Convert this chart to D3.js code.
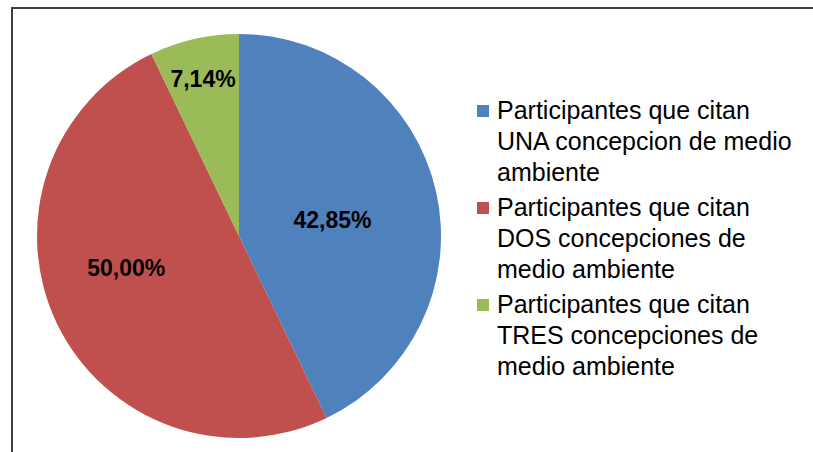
<!DOCTYPE html>
<html lang="es">
<head>
<meta charset="UTF-8">
<title>Concepciones de medio ambiente</title>
<script src="https://cdn.jsdelivr.net/npm/d3@7"></script>
<style>
  body { margin: 0; background: #fff; }
  #chart text { font-family: "Liberation Sans", Arial, sans-serif; fill: #000; }
  .label { font-size: 23px; font-weight: bold; }
  .legend text { font-size: 25px; }
</style>
</head>
<body>
<div id="chart"></div>
<script>
  // data
  var categories = ["UNA", "DOS", "TRES"];
  var values = [42.85, 50.00, 7.14];
  var labels = ["42,85%", "50,00%", "7,14%"];
  var legendLines = [
    ["Participantes que citan", "UNA concepcion de medio", "ambiente"],
    ["Participantes que citan", "DOS concepciones de", "medio ambiente"],
    ["Participantes que citan", "TRES concepciones de", "medio ambiente"]
  ];
  var colors = ["#4F81BD", "#C0504D", "#9BBB59"];

  var width = 813, height = 452;
  var cx = 239, cy = 236, R = 202;

  var svg = d3.select("#chart").append("svg")
    .attr("width", width).attr("height", height);

  // outer frame (right and bottom edges fall outside the picture)
  svg.append("rect")
    .attr("x", 12).attr("y", 8)
    .attr("width", 820).attr("height", 460)
    .attr("fill", "none")
    .attr("stroke", "#404040")
    .attr("stroke-width", 2);

  var color = d3.scaleOrdinal().domain(categories).range(colors);

  var pie = d3.pie().sort(null).value(function(d) { return d.v; });
  var arcs = pie(categories.map(function(c, i) { return { c: c, v: values[i], l: labels[i] }; }));

  var arc = d3.arc().innerRadius(0).outerRadius(R);

  var g = svg.append("g").attr("transform", "translate(" + cx + "," + cy + ")");

  g.selectAll("path.slice")
    .data(arcs)
    .enter().append("path")
    .attr("class", "slice")
    .attr("d", arc)
    .attr("fill", function(d) { return color(d.data.c); });

  // label placement: radius fraction and small angle nudge, like the spreadsheet's best fit
  var labelR = [0.47, 0.58, 0.8];
  var labelShift = [3, 10, 0];
  g.selectAll("text.label")
    .data(arcs)
    .enter().append("text")
    .attr("class", "label")
    .attr("text-anchor", "middle")
    .attr("dy", "0.35em")
    .attr("transform", function(d, i) {
      var a = (d.startAngle + d.endAngle) / 2 + labelShift[i] * Math.PI / 180;
      var r = labelR[i] * R;
      var p = d3.arc().innerRadius(r).outerRadius(r).startAngle(a).endAngle(a).centroid();
      return "translate(" + p[0] + "," + p[1] + ")";
    })
    .text(function(d) { return d.data.l; });

  // legend
  var lineH = 31, groupH = 97;
  var legend = svg.append("g").attr("class", "legend")
    .attr("transform", "translate(477,119)");

  var item = legend.selectAll("g.item")
    .data(categories)
    .enter().append("g")
    .attr("class", "item")
    .attr("transform", function(d, i) { return "translate(0," + (i * groupH) + ")"; });

  item.append("rect")
    .attr("x", 0).attr("y", -14)
    .attr("width", 12).attr("height", 12)
    .attr("fill", function(d) { return color(d); });

  item.each(function(d, i) {
    d3.select(this).selectAll("text")
      .data(legendLines[i])
      .enter().append("text")
      .attr("x", 20)
      .attr("y", function(t, j) { return j * lineH; })
      .text(function(t) { return t; });
  });
</script>
</body>
</html>
